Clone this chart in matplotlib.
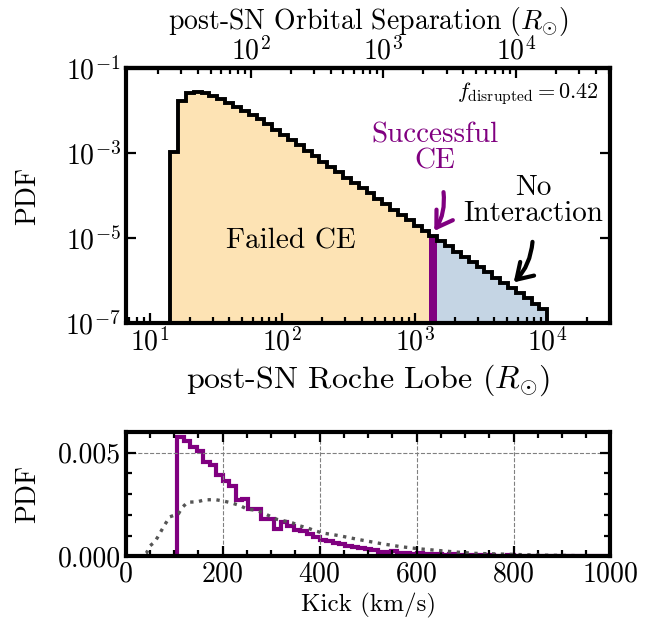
import numpy as np
import matplotlib
matplotlib.use("Agg")
import matplotlib.pyplot as plt
from matplotlib.ticker import NullLocator, MultipleLocator, FormatStrFormatter, LogLocator

plt.rcParams["font.family"] = "serif"
plt.rcParams["font.serif"] = ["cmr10"]
plt.rcParams["mathtext.fontset"] = "cm"
plt.rcParams["axes.formatter.use_mathtext"] = True
plt.rcParams["font.size"] = 20

# ------------------------------------------------------------
# DATA
# ------------------------------------------------------------
# post-SN Roche lobe histogram: 48 log-spaced bins from ~14.3 to 1e4 Rsun
rl_edges = np.logspace(np.log10(14.3), 4, 49)
rl_log_pdf = [-2.98, -1.78, -1.60, -1.56, -1.59, -1.66, -1.74, -1.82, -1.92, -2.01,
              -2.11, -2.20, -2.32, -2.45, -2.58, -2.69, -2.82, -2.95, -3.07, -3.20,
              -3.33, -3.45, -3.58, -3.71, -3.82, -3.95, -4.08, -4.20, -4.33, -4.46,
              -4.58, -4.71, -4.84, -4.95, -5.07, -5.19, -5.32, -5.44, -5.56, -5.68,
              -5.80, -5.93, -6.05, -6.18, -6.29, -6.41, -6.54, -6.67]
rl_pdf = np.power(10.0, rl_log_pdf)
n_failed = 33        # bins with failed CE
n_success = 1        # bins with successful CE, rest: no interaction
rl_frac = 0.58       # Roche lobe / separation
f_disrupted = 0.42

# kick histogram: bins of 1000/75 km/s, non-zero from bin 8
kick_edges = np.linspace(0, 1000, 76)
kick_first_bin = 8
kick_pdf = [0.00574, 0.00558, 0.00526, 0.00506, 0.00453, 0.00438, 0.00390, 0.00365, 0.00341, 0.00269,
            0.00277, 0.00226, 0.00229, 0.00181, 0.00181, 0.00133, 0.00165, 0.00144, 0.00128, 0.00120,
            0.00108, 0.00093, 0.00080, 0.00072, 0.00063, 0.00060, 0.00048, 0.00044, 0.00038, 0.00034,
            0.00030, 0.00022, 0.00021, 0.00026, 0.00016, 0.00015, 0.00013, 0.00014, 0.00011, 0.00012,
            0.00009, 0.00008, 0.00010, 0.00007, 0.00006, 0.00007, 0.00005, 0.00004, 0.00005, 0.00003,
            0.00003, 0.00004, 0.00002, 0.00003, 0.00002, 0.00002, 0.00001, 0.00001, 0.00001, 0.00001,
            0.00001, 0.000005, 0.000005, 0.0, 0.0, 0.0, 0.0]

# underlying kick distribution (dotted)
kick_grid = [25, 35, 43, 50, 60, 68, 80, 91, 109, 116, 128, 147, 163, 185, 202, 217, 235, 250,
             267, 280, 296, 312, 328, 345, 360, 376, 391, 407, 441, 482, 529, 568, 605, 644,
             683, 721, 783, 845, 906, 968, 1000]
kick_prior = [0.0, 0.00005, 0.00016, 0.0005, 0.00069, 0.0010, 0.0015, 0.0019, 0.00205, 0.00234,
              0.00261, 0.00262, 0.00272, 0.00273, 0.00266, 0.00258, 0.00245, 0.00228, 0.00222,
              0.00213, 0.00195, 0.00178, 0.00170, 0.00160, 0.00146, 0.00136, 0.00122, 0.00112,
              0.00099, 0.00080, 0.00060, 0.00046, 0.00036, 0.00028, 0.00020, 0.00014, 0.00010,
              0.00006, 0.00004, 0.00002, 0.00002]

c_failed = "#fde3b4"
c_success = "#800080"
c_none = "#c5d5e4"

fig = plt.figure(figsize=(6.65, 6.35), dpi=100)
ax1 = fig.add_axes([0.189, 0.491, 0.729, 0.402])
ax2 = fig.add_axes([0.189, 0.124, 0.729, 0.196])

# ------------------------------------------------------------
# TOP PANEL
# ------------------------------------------------------------
base = 1e-9
i1 = n_failed
i2 = n_failed + n_success
ax1.stairs(rl_pdf[:i1], rl_edges[:i1 + 1], fill=True, color=c_failed, baseline=base, lw=0)
ax1.stairs(rl_pdf[i1:i2], rl_edges[i1:i2 + 1], fill=True, color=c_success, baseline=base, lw=0)
ax1.stairs(rl_pdf[i2:], rl_edges[i2:], fill=True, color=c_none, baseline=base, lw=0)
ax1.stairs(rl_pdf, rl_edges, color="k", lw=2.8, baseline=base)

ax1.set_xscale("log")
ax1.set_yscale("log")
ax1.set_xlim(6.6, 3e4)
ax1.set_ylim(1e-7, 1e-1)
ax1.set_yticks([1e-7, 1e-5, 1e-3, 1e-1])
ax1.yaxis.set_minor_locator(NullLocator())
ax1.set_xlabel(r"post-SN Roche Lobe ($R_{\odot}$)", fontsize=23)
ax1.set_ylabel("PDF")
ax1.yaxis.set_label_coords(-0.175, 0.5)
ax1.tick_params(which="both", direction="in", top=False, right=True, width=1.6)
ax1.tick_params(which="major", length=7)
ax1.tick_params(which="minor", length=4)

secax = ax1.secondary_xaxis("top", functions=(lambda x: x / rl_frac, lambda a: a * rl_frac))
secax.set_xticks([1e2, 1e3, 1e4])
secax.xaxis.set_minor_locator(LogLocator(base=10, subs=np.arange(2, 10)))
secax.set_xlabel(r"post-SN Orbital Separation ($R_{\odot}$)", labelpad=5)
secax.tick_params(which="both", direction="in", width=1.6)
secax.tick_params(which="major", length=7, pad=2)
secax.tick_params(which="minor", length=4)

ax1.text(117, 8.5e-6, "Failed CE", ha="center", va="center", fontsize=21)
ax1.text(1415, 1.3e-3, "Successful\nCE", ha="center", va="center", fontsize=21,
         color=c_success, linespacing=1.0)
ax1.text(7900, 7.4e-5, "No\nInteraction", ha="center", va="center", fontsize=21,
         linespacing=1.0)
ax1.annotate("", xy=(1368, 1.3e-5), xytext=(1640, 1.4e-4),
             arrowprops=dict(arrowstyle="->,head_length=0.55,head_width=0.35", lw=3,
                             color=c_success, connectionstyle="arc3,rad=-0.2"))
ax1.annotate("", xy=(5395, 8.2e-7), xytext=(7770, 9.5e-6),
             arrowprops=dict(arrowstyle="->,head_length=0.55,head_width=0.35", lw=3,
                             color="k", connectionstyle="arc3,rad=-0.2"))
ax1.text(0.975, 0.90, r"$f_{\rm disrupted} = %.2f$" % f_disrupted, transform=ax1.transAxes,
         ha="right", va="center", fontsize=16)

# ------------------------------------------------------------
# BOTTOM PANEL
# ------------------------------------------------------------
ax2.grid(True, which="major", ls="--", color="gray", lw=0.8)
ax2.plot(kick_grid, kick_prior, ls=":", color="#555555", lw=2.4)
ax2.stairs(kick_pdf, kick_edges[kick_first_bin:], color=c_success, lw=3, baseline=0)

ax2.set_xlim(0, 1000)
ax2.set_ylim(0, 0.006)
ax2.set_yticks([0, 0.005])
ax2.yaxis.set_major_formatter(FormatStrFormatter("%.3f"))
ax2.yaxis.set_minor_locator(MultipleLocator(0.001))
ax2.xaxis.set_major_locator(MultipleLocator(200))
ax2.xaxis.set_minor_locator(MultipleLocator(50))
ax2.set_xlabel("Kick (km/s)", fontsize=18)
ax2.set_ylabel("PDF")
ax2.yaxis.set_label_coords(-0.175, 0.5)
ax2.tick_params(which="both", direction="in", top=True, right=True, width=1.6)
ax2.tick_params(which="major", length=7)
ax2.tick_params(which="minor", length=4)

for ax in (ax1, ax2):
    for s in ax.spines.values():
        s.set_linewidth(3)
secax.spines["top"].set_linewidth(3)

fig.savefig("out.png", dpi=100)
